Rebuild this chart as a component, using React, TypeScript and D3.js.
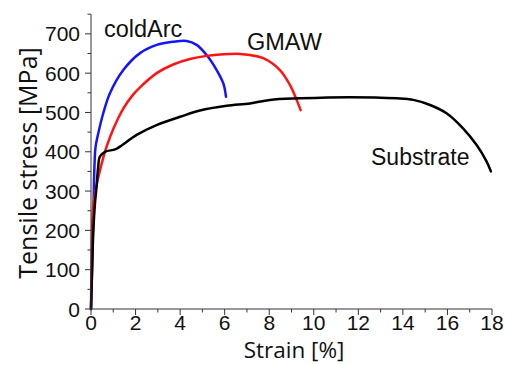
import * as d3 from 'd3'

const coldArcStrain = [0, 0.03, 0.1, 0.2, 0.3, 0.55, 0.85, 1.45, 2.2, 2.95, 3.69, 4.29, 4.74, 5.19, 5.64, 5.94, 6.06]
const coldArcStress = [0, 60, 226, 410, 440, 498, 549, 608, 651, 672, 680, 682, 672, 646, 608, 574, 540]

const gmawStrain = [0, 0.02, 0.05, 0.1, 0.25, 0.4, 0.55, 0.7, 1.0, 1.45, 1.9, 2.2, 2.95, 3.69, 4.44, 5.19, 5.94, 6.7, 7.14, 7.73, 8.48, 8.93, 9.23, 9.41]
const gmawStress = [0, 100, 200, 262, 315, 352, 385, 413, 458, 510, 546, 564, 600, 622, 636, 644, 648, 649, 646, 638, 608, 570, 532, 506]

const substrateStrain = [0, 0.05, 0.1, 0.18, 0.25, 0.32, 0.4, 0.63, 1.08, 1.3, 2.05, 2.94, 4.0, 4.89, 6.09, 7.14, 8.03, 9.38, 11.62, 13.72, 14.47, 15.22, 15.96, 16.71, 17.31, 17.76, 17.95]
const substrateStress = [0, 100, 193, 270, 311, 360, 388, 400, 406, 413, 443, 468, 489, 505, 517, 523, 532, 536, 539, 536, 532, 519, 498, 459, 417, 375, 350]

const xTicks = [0, 2, 4, 6, 8, 10, 12, 14, 16, 18]
const yTicks = [0, 100, 200, 300, 400, 500, 600, 700]

const series = [
  { name: 'coldArc', strain: coldArcStrain, stress: coldArcStress, color: '#1414ff' },
  { name: 'GMAW', strain: gmawStrain, stress: gmawStress, color: '#ff1414' },
  { name: 'Substrate', strain: substrateStrain, stress: substrateStress, color: '#000000' },
]

export default function App() {
  const width = 505, height = 365
  const x = d3.scaleLinear().domain([0, 18]).range([91, 492])
  const y = d3.scaleLinear().domain([0, 750]).range([309, 14.2])
  const line = d3.line<[number, number]>().x(d => x(d[0])).y(d => y(d[1])).curve(d3.curveCatmullRom.alpha(0.5))
  const xMinor = d3.range(1, 18, 2)
  const yMinor = d3.range(50, 751, 100)
  const axisColor = '#333'
  const tickFont = '"Liberation Sans", Arial, sans-serif'
  const titleFont = '"Open Sans", sans-serif'

  return (
    <div style={{ position: 'fixed', left: 0, top: 0 }}>
      <svg width={width} height={height} style={{ display: 'block', background: '#fff' }}>
        {series.map(s => (
          <path key={s.name} d={line(s.strain.map((v, i) => [v, s.stress[i]] as [number, number])) || ''}
            fill="none" stroke={s.color} strokeWidth={2.5} strokeLinejoin="round" strokeLinecap="round" />
        ))}
        {/* x axis */}
        <line x1={x(0)} x2={x(18)} y1={y(0)} y2={y(0)} stroke={axisColor} strokeWidth={1} />
        {xTicks.map(t => (
          <g key={'xt' + t}>
            <line x1={x(t)} x2={x(t)} y1={y(0)} y2={y(0) + 6} stroke={axisColor} />
            <text x={x(t)} y={330} textAnchor="middle" fontFamily={tickFont} fontSize={21} fill="#111">{t}</text>
          </g>
        ))}
        {xMinor.map(t => (
          <line key={'xm' + t} x1={x(t)} x2={x(t)} y1={y(0)} y2={y(0) + 3.5} stroke={axisColor} />
        ))}
        {/* y axis */}
        <line x1={x(0)} x2={x(0)} y1={y(0)} y2={y(750)} stroke={axisColor} strokeWidth={1} />
        {yTicks.map(t => (
          <g key={'yt' + t}>
            <line x1={x(0) - 6} x2={x(0)} y1={y(t)} y2={y(t)} stroke={axisColor} />
            <text x={80} y={y(t)} dy="0.36em" textAnchor="end" fontFamily={tickFont} fontSize={21} fill="#111">{t}</text>
          </g>
        ))}
        {yMinor.map(t => (
          <line key={'ym' + t} x1={x(0) - 3.5} x2={x(0)} y1={y(t)} y2={y(t)} stroke={axisColor} />
        ))}
        {/* titles */}
        <text x={294} y={358} textAnchor="middle" fontFamily={titleFont} fontSize={22.5} fill="#111">Strain [%]</text>
        <text transform={`translate(37,163) rotate(-90)`} textAnchor="middle" fontFamily={titleFont} fontSize={25} fill="#111">Tensile stress [MPa]</text>
        {/* annotations */}
        <text x={104} y={36.5} fontFamily={tickFont} fontSize={23.5} fill="#111">coldArc</text>
        <text x={247} y={50} fontFamily={tickFont} fontSize={23.5} fill="#111">GMAW</text>
        <text x={371} y={165} fontFamily={tickFont} fontSize={23} fill="#111">Substrate</text>
      </svg>
    </div>
  )
}
